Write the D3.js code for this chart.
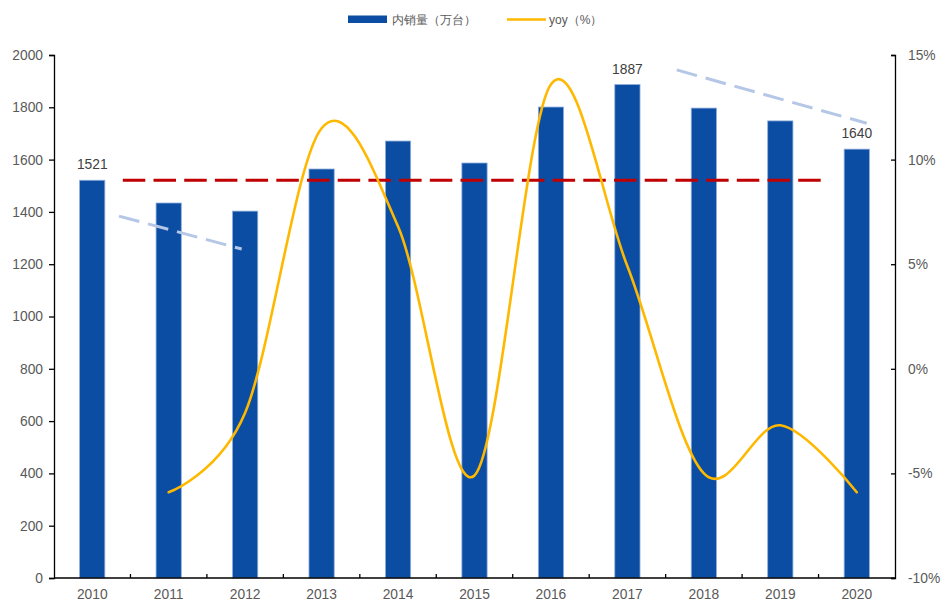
<!DOCTYPE html>
<html>
<head>
<meta charset="utf-8">
<script src="https://cdn.jsdelivr.net/npm/d3@7"></script>
<style>
  html, body { margin: 0; padding: 0; background: #fff; }
  svg { display: block; }
  text { font-family: "Liberation Sans", Arial, sans-serif; }
</style>
</head>
<body>
<svg id="chart" width="944" height="601"></svg>
<script>
// Domestic sales (10k units) and year-over-year growth
const years = ["2010","2011","2012","2013","2014","2015","2016","2017","2018","2019","2020"];
const sales = [1521, 1434, 1403, 1564, 1671, 1587, 1801, 1887, 1797, 1748, 1640];
const yoyYears = ["2011","2012","2013","2014","2015","2016","2017","2018","2019","2020"];
const yoy = [-5.9, -2.1, 11.5, 6.8, -5.1, 13.6, 4.9, -5.0, -2.7, -5.9];
const labelledYears = ["2010", "2017", "2020"];

const leftTicks = [0, 200, 400, 600, 800, 1000, 1200, 1400, 1600, 1800, 2000];
const rightTicks = [-10, -5, 0, 5, 10, 15];

// Reference level (2010 sales) and two trend guides, in category-index / value units
const refLevel = { value: 1521, from: 0.4, to: 9.56 };
const trendGuides = [
  { i0: 0.35, v0: 1384, i1: 1.955, v1: 1258 },
  { i0: 7.645, v0: 1943, i1: 10.13, v1: 1739 }
];

const svg = d3.select("#chart");
const plot = { left: 54, right: 895, top: 55, bottom: 578 };

const x = d3.scaleBand().domain(years).range([plot.left, plot.right])
  .paddingInner(0.67).paddingOuter(0.335);
const y = d3.scaleLinear().domain([0, 2000]).range([plot.bottom, plot.top]);
const y2 = d3.scaleLinear().domain([-10, 15]).range([plot.bottom, plot.top]);
const center = d => x(d) + x.bandwidth() / 2;
// fractional category index -> pixel
const xi = i => x(years[0]) + x.bandwidth() / 2 + i * x.step();

const textColor = "#595959";
const fontSize = 13.8;

// Bars
svg.append("g").selectAll("rect").data(years).join("rect")
  .attr("x", d => x(d))
  .attr("y", (d, i) => y(sales[i]))
  .attr("width", x.bandwidth())
  .attr("height", (d, i) => y(0) - y(sales[i]))
  .attr("fill", "#0B4DA2")
  .attr("stroke", "#8FAEDC")
  .attr("stroke-width", 0.8);

// Bar value labels
svg.append("g").selectAll("text").data(labelledYears).join("text")
  .attr("x", d => center(d))
  .attr("y", d => y(sales[years.indexOf(d)]) - 11)
  .attr("text-anchor", "middle")
  .attr("font-size", fontSize)
  .attr("fill", "#404040")
  .text(d => sales[years.indexOf(d)]);

// Trend guides
svg.append("g").selectAll("line").data(trendGuides).join("line")
  .attr("x1", d => xi(d.i0)).attr("y1", d => y(d.v0))
  .attr("x2", d => xi(d.i1)).attr("y2", d => y(d.v1))
  .attr("stroke", "#B4C7E7")
  .attr("stroke-width", 3)
  .attr("stroke-dasharray", "21 9");

// Reference level
svg.append("line")
  .attr("x1", xi(refLevel.from)).attr("x2", xi(refLevel.to))
  .attr("y1", y(refLevel.value)).attr("y2", y(refLevel.value))
  .attr("stroke", "#C00000")
  .attr("stroke-width", 3)
  .attr("stroke-dasharray", "22.5 8.2");

// YoY smoothed line
const line = d3.line()
  .x(d => center(d.year))
  .y(d => y2(d.v))
  .curve(d3.curveCardinal.tension(0));
svg.append("path")
  .datum(yoyYears.map((yr, i) => ({ year: yr, v: yoy[i] })))
  .attr("d", line)
  .attr("fill", "none")
  .attr("stroke", "#FFB800")
  .attr("stroke-width", 2.6)
  .attr("stroke-linecap", "round");

// Axes
function styleAxis(g) {
  g.selectAll(".domain").attr("stroke", "#000").attr("stroke-width", 1.3);
  g.selectAll(".tick line").attr("stroke", "#000").attr("stroke-width", 1.3);
  g.selectAll(".tick text").attr("fill", textColor)
    .attr("font-size", fontSize)
    .attr("font-family", '"Liberation Sans", Arial, sans-serif');
}

svg.append("g")
  .attr("transform", `translate(${plot.left},0)`)
  .call(d3.axisLeft(y).tickValues(leftTicks).tickSize(5).tickSizeOuter(5).tickPadding(6)
    .tickFormat(d3.format("d")))
  .call(styleAxis);

svg.append("g")
  .attr("transform", `translate(${plot.right},0)`)
  .call(d3.axisRight(y2).tickValues(rightTicks).tickSize(-4).tickSizeOuter(-4).tickPadding(13)
    .tickFormat(d => d + "%"))
  .call(styleAxis);

// Category axis with ticks between categories
const xAxisG = svg.append("g").attr("transform", `translate(0,${plot.bottom})`);
xAxisG.append("line")
  .attr("x1", plot.left).attr("x2", plot.right)
  .attr("stroke", "#000").attr("stroke-width", 1.3);
xAxisG.selectAll("line.sep").data(years.slice(1)).join("line")
  .attr("class", "sep")
  .attr("x1", d => x(d) - x.step() * x.paddingInner() / 2)
  .attr("x2", d => x(d) - x.step() * x.paddingInner() / 2)
  .attr("y1", 0).attr("y2", -4)
  .attr("stroke", "#000").attr("stroke-width", 1.3);
xAxisG.selectAll("text").data(years).join("text")
  .attr("x", d => center(d))
  .attr("y", 21)
  .attr("text-anchor", "middle")
  .attr("font-size", fontSize)
  .attr("fill", textColor)
  .text(d => d);

// Legend
const legend = svg.append("g");
legend.append("rect")
  .attr("x", 348).attr("y", 15.5).attr("width", 39).attr("height", 7.5)
  .attr("fill", "#0B4DA2");
legend.append("text")
  .attr("x", 392).attr("y", 23.5)
  .attr("font-size", 12)
  .attr("font-family", '"Noto Sans CJK SC", sans-serif')
  .attr("fill", textColor)
  .text("内销量（万台）");
legend.append("line")
  .attr("x1", 507).attr("x2", 546).attr("y1", 19.5).attr("y2", 19.5)
  .attr("stroke", "#FFB800").attr("stroke-width", 2.6);
legend.append("text")
  .attr("x", 549).attr("y", 23.5)
  .attr("font-size", 12)
  .attr("font-family", '"Noto Sans CJK SC", sans-serif')
  .attr("fill", textColor)
  .text("yoy（%）");
</script>
</body>
</html>
